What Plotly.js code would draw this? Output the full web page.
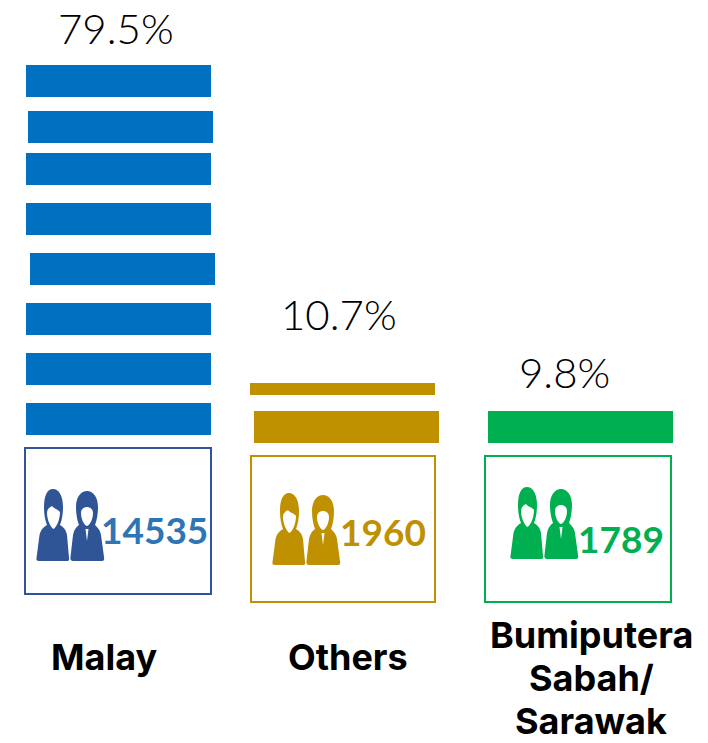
<!DOCTYPE html>
<html>
<head>
<meta charset="utf-8">
<script src="https://cdn.plot.ly/plotly-3.0.1.min.js"></script>
<style>
html, body { margin: 0; padding: 0; background: #fff; }
#chart { width: 708px; height: 743px; }
</style>
</head>
<body>
<div id="chart"></div>
<script>
// data
const categories = ["Malay", "Others", "Bumiputera Sabah/ Sarawak"];
const percentLabels = ["79.5%", "10.7%", "9.8%"];
const counts = ["14535", "1960", "1789"];
// pictogram blocks per group, 1 = one full block
const malayBlocks = [1, 1, 1, 1, 1, 1, 1, 1];
const othersBlocks = [0.375, 1];
const bumiBlocks = [1];
// category names as they wrap under the boxes
const labelLines = [["Malay"], ["Others"], ["Bumiputera", "Sabah/", "Sarawak"]];

// page layout, the axes below run in page pixels
const colors = ["#0070C0", "#BF9000", "#00B050"];
const boxColors = ["#2F5597", "#BF9000", "#00B050"];
const countColors = ["#2E75B6", "#BF9000", "#00B050"];
const iconColors = ["#2F5597", "#BF9000", "#00B050"];
const blockLength = 185, fullHeight = 32;

const blockLefts = [
    [26, 28, 26, 26, 30, 26, 26, 26],
    [250, 254],
    [488]
];
const blockTops = [
    [65, 111, 153, 203, 253, 303, 353, 403],
    [383, 411],
    [411]
];
const boxes = [
    {x0: 25, x1: 211, y0: 448, y1: 594},
    {x0: 251, x1: 435, y0: 456, y1: 602},
    {x0: 485, x1: 671, y0: 456, y1: 602}
];
const iconOrigins = [[36, 489], [272, 493], [510, 487]];
const percentPos = [[116, 28], [339, 314], [564, 372]];
const countPos = [[154.5, 529], [382.5, 531], [621, 538]];
const labelX = [104, 348, 591];
const labelY = [[657], [657], [635, 678, 721]];

// one drawn figure, local coordinates, face cut out by evenodd fill
const womanPath = [
    ["M", 0.5, 69], ["C", 0, 71.5, 1, 72, 3, 72], ["L", 30, 72], ["C", 33, 72, 33.5, 71, 33, 69],
    ["L", 31, 46], ["C", 30, 40, 27, 38, 24, 36], ["C", 26, 31, 27, 25, 27, 18],
    ["C", 27, 7, 23, 0, 17, 0], ["C", 11, 0, 8, 7, 8, 18], ["C", 8, 25, 9, 31, 11, 36],
    ["C", 8, 38, 5, 40, 3.5, 46], ["Z"],
    ["M", 11, 24], ["C", 11, 20, 14, 18, 16, 17], ["C", 18, 20, 22, 20, 24, 23],
    ["C", 24, 31, 20, 39, 17.5, 40], ["C", 15, 39, 11, 31, 11, 24], ["Z"]
];
const manPath = [
    ["M", 34.5, 68], ["C", 34, 71, 35, 72, 37, 72], ["L", 65, 72], ["C", 68, 72, 68.5, 71, 68, 68],
    ["L", 65, 46], ["C", 64, 41, 62, 39, 59, 36], ["C", 61, 31, 62, 24, 62, 18],
    ["C", 62, 8, 57, 2, 51, 2], ["C", 45, 2, 40, 8, 40, 18], ["C", 40, 24, 41, 31, 43, 36],
    ["C", 40, 38, 38, 41, 37, 46], ["Z"],
    ["M", 45, 24], ["C", 45, 20, 48, 18, 51, 18], ["C", 54, 18, 57, 20, 57, 24],
    ["C", 57, 30, 54, 36, 51, 37], ["C", 48, 36, 45, 30, 45, 24], ["Z"],
    ["M", 49.5, 40], ["L", 52.5, 40], ["L", 51, 52], ["Z"]
];

function placePath(cmds, ox, oy) {
    return cmds.map(c => {
        let out = c[0];
        for (let i = 1; i < c.length; i += 2) {
            out += (i > 1 ? " " : "") + (c[i] + ox) + "," + (c[i + 1] + oy);
        }
        return out;
    }).join(" ");
}

let groups = [malayBlocks, othersBlocks, bumiBlocks];

let traces = groups.map((blocks, g) => ({
    type: "bar",
    orientation: "h",
    name: categories[g],
    x: blocks.map(() => blockLength),
    base: blockLefts[g],
    y: blocks.map((b, i) => blockTops[g][i] + b * fullHeight / 2),
    width: blocks.map(b => b * fullHeight),
    marker: {color: colors[g], line: {width: 0}},
    hoverinfo: "skip"
}));

let shapes = [];
boxes.forEach((b, g) => {
    shapes.push({type: "rect", xref: "x", yref: "y", x0: b.x0, x1: b.x1, y0: b.y0, y1: b.y1,
        line: {color: boxColors[g], width: 2}, fillcolor: "rgba(0,0,0,0)"});
    [womanPath, manPath].forEach(p => {
        shapes.push({type: "path", xref: "x", yref: "y",
            path: placePath(p, iconOrigins[g][0], iconOrigins[g][1]),
            fillcolor: iconColors[g], line: {width: 0}});
    });
});

let annotations = [];
categories.forEach((c, g) => {
    annotations.push({x: percentPos[g][0], y: percentPos[g][1], xref: "x", yref: "y", text: percentLabels[g],
        showarrow: false, xanchor: "center", yanchor: "middle",
        font: {family: "Lato, sans-serif", size: 42, color: "#000000", weight: 300}});
    annotations.push({x: countPos[g][0], y: countPos[g][1], xref: "x", yref: "y", text: counts[g],
        showarrow: false, xanchor: "center", yanchor: "middle",
        font: {family: "Lato, sans-serif", size: 37, color: countColors[g], weight: 700}});
    labelLines[g].forEach((line, i) => {
        annotations.push({x: labelX[g], y: labelY[g][i], xref: "x", yref: "y", text: line,
            showarrow: false, xanchor: "center", yanchor: "middle",
            font: {family: "Inter, sans-serif", size: 36, color: "#000000", weight: 700}});
    });
});

Plotly.newPlot("chart", traces, {
    width: 708,
    height: 743,
    margin: {l: 0, r: 0, t: 0, b: 0},
    paper_bgcolor: "#ffffff",
    plot_bgcolor: "#ffffff",
    showlegend: false,
    barmode: "overlay",
    xaxis: {range: [0, 708], visible: false, fixedrange: true},
    yaxis: {range: [743, 0], visible: false, fixedrange: true},
    shapes: shapes,
    annotations: annotations
}, {displayModeBar: false, staticPlot: true});
</script>
</body>
</html>
